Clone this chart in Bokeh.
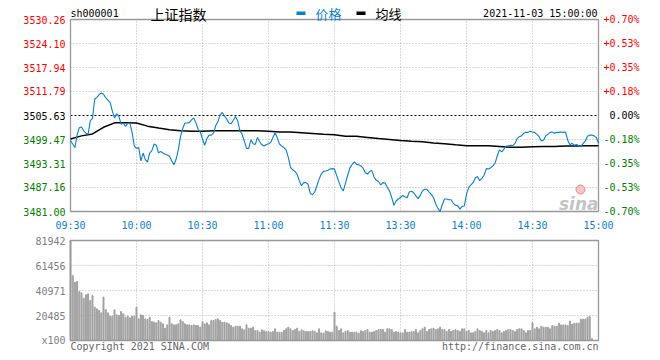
from bokeh.plotting import figure
from bokeh.models import Range1d
from bokeh.core.properties import value
from bokeh.embed import file_html
from bokeh.resources import INLINE

# ---------------- data ----------------
symbol = "sh000001"
index_name = "上证指数"
timestamp = "2021-11-03 15:00:00"
legend_price = "价格"
legend_avg = "均线"
copyright_text = "Copyright 2021 SINA.COM"
url_text = "http://finance.sina.com.cn"
prev_close = 3505.63

price_ticks = [3530.26, 3524.10, 3517.94, 3511.79, 3505.63, 3499.47, 3493.31, 3487.16, 3481.00]
pct_labels = ["+0.70%", "+0.53%", "+0.35%", "+0.18%", "0.00%", "-0.18%", "-0.35%", "-0.53%", "-0.70%"]
time_ticks = [0, 30, 60, 90, 120, 150, 180, 210, 240]
time_labels = ["09:30", "10:00", "10:30", "11:00", "11:30", "13:30", "14:00", "14:30", "15:00"]
vol_ticks = [0, 20485, 40971, 61456, 81942]
vol_labels = ["x100", "20485", "40971", "61456", "81942"]

minutes = list(range(241))
price = [
    3499.2, 3498.3, 3497.4, 3500.6, 3502.5, 3502.7, 3501.7, 3501.1, 3500.8, 3504.3,
    3504.9, 3509.8, 3510.3, 3511.0, 3511.4, 3511.1, 3510.2, 3509.6, 3509.0, 3506.8,
    3505.0, 3506.1, 3505.4, 3503.4, 3503.7, 3502.8, 3503.6, 3503.7, 3501.3, 3497.8,
    3497.2, 3497.4, 3494.0, 3496.0, 3494.3, 3493.7, 3496.0, 3496.6, 3498.3, 3498.0,
    3496.1, 3496.4, 3496.0, 3495.7, 3495.5, 3495.2, 3494.0, 3493.0, 3494.4, 3496.8,
    3500.2, 3502.3, 3503.7, 3503.7, 3503.8, 3504.5, 3505.0, 3503.8, 3502.1, 3501.4,
    3499.6, 3498.0, 3499.7, 3500.6, 3500.6, 3501.1, 3503.0, 3504.0, 3505.8, 3506.4,
    3505.5, 3504.7, 3503.7, 3503.5, 3504.4, 3505.4, 3504.3, 3501.7, 3500.8, 3499.1,
    3497.2, 3497.2, 3499.4, 3498.4, 3498.2, 3500.0, 3498.9, 3498.1, 3497.8, 3498.2,
    3498.4, 3498.7, 3500.0, 3501.2, 3499.9, 3498.3, 3497.8, 3497.4, 3496.8, 3494.9,
    3492.3, 3491.7, 3491.3, 3490.6, 3488.9, 3487.6, 3488.4, 3488.4, 3488.0, 3485.6,
    3485.3, 3486.0, 3487.6, 3489.3, 3490.6, 3491.3, 3491.4, 3491.6, 3491.9, 3492.0,
    3491.9, 3490.2, 3488.6, 3487.1, 3486.3, 3488.3, 3490.3, 3492.2, 3493.1, 3493.7,
    3493.1, 3493.0, 3492.7, 3492.1, 3491.0, 3490.6, 3491.3, 3491.5, 3489.8, 3489.0,
    3488.7, 3487.8, 3488.4, 3488.3, 3487.2, 3486.3, 3484.6, 3482.6, 3483.7, 3484.2,
    3484.6, 3485.1, 3484.8, 3484.5, 3486.0, 3486.2, 3485.8, 3485.0, 3484.3, 3485.2,
    3486.3, 3486.7, 3486.7, 3486.0, 3485.4, 3484.6, 3483.0, 3481.8, 3481.0, 3482.8,
    3484.2, 3484.2, 3484.0, 3484.0, 3483.1, 3482.6, 3482.5, 3481.6, 3482.3, 3482.4,
    3485.4, 3487.2, 3487.8, 3488.4, 3489.6, 3490.0, 3488.9, 3489.5, 3490.3, 3492.0,
    3491.9, 3492.2, 3492.7, 3493.4, 3495.3, 3496.8, 3496.3, 3497.0, 3497.8, 3497.8,
    3498.0, 3497.9, 3498.4, 3499.7, 3500.2, 3500.4, 3501.1, 3501.3, 3501.3, 3501.6,
    3501.4, 3501.3, 3500.8, 3500.2, 3499.1, 3499.3, 3500.4, 3500.8, 3501.3, 3501.4,
    3501.1, 3501.3, 3501.3, 3501.4, 3501.3, 3501.4, 3499.3, 3498.1, 3498.5, 3498.0,
    3498.2, 3497.9, 3497.7, 3498.4, 3499.1, 3500.3, 3500.6, 3500.6, 3500.4, 3500.0,
    3498.5,
]

avg_minutes = [0, 5, 10, 15, 20, 25, 30, 35, 40, 45, 50, 55, 60, 65, 70, 75, 80, 85, 90, 95,
               100, 105, 110, 115, 120, 125, 130, 135, 140, 145, 150, 155, 160, 165, 170, 175,
               180, 185, 190, 195, 200, 205, 210, 215, 220, 225, 230, 235, 240]
avg_price = [3499.6, 3500.4, 3500.9, 3502.6, 3503.75, 3503.8, 3503.7, 3502.9, 3502.4, 3502.0,
             3501.7, 3501.6, 3501.6, 3501.7, 3501.7, 3501.7, 3501.7, 3501.7, 3501.6, 3501.4,
             3501.4, 3501.2, 3501.0, 3500.8, 3500.7, 3500.3, 3500.3, 3500.0, 3499.7, 3499.5,
             3499.2, 3499.0, 3498.9, 3498.6, 3498.4, 3498.1, 3497.9, 3497.85, 3497.85, 3497.7,
             3497.5, 3497.5, 3497.6, 3497.7, 3497.7, 3497.8, 3497.8, 3497.85, 3497.85]

volume = [
    81942, 53235, 47775, 48321, 40131, 39039, 34671, 37401, 38220, 32760,
    36855, 27300, 25935, 24570, 22659, 35490, 25389, 22659, 19929, 19929,
    25116, 21021, 20475, 23751, 21840, 19110, 19929, 18564, 19929, 19929,
    27300, 17745, 21021, 20475, 17745, 17199, 19110, 15561, 15015, 14469,
    16380, 15015, 13650, 10101, 12831, 19110, 13650, 12831, 12831, 13650,
    16926, 15561, 13650, 12831, 12831, 12285, 12831, 12285, 12285, 10920,
    15561, 13650, 14469, 12831, 16380, 16380, 17199, 17745, 16380, 15015,
    15015, 14469, 13650, 12285, 10920, 11739, 11739, 11739, 9555, 8736,
    12831, 10101, 10101, 10920, 8190, 8190, 6825, 8736, 7917, 7371,
    7371, 6825, 7371, 9555, 6825, 6825, 6825, 8190, 9555, 10920,
    9555, 8190, 9009, 10101, 7371, 8736, 7917, 7371, 7371, 7371,
    7917, 7644, 6279, 9555, 6279, 6006, 7917, 7371, 6825, 6825,
    23205,
    11739, 8190, 9555, 6279, 7371, 8190, 6825, 6825, 6825, 6825,
    6006, 7917, 7371, 8190, 9009, 6825, 6825, 7371, 8190, 9009,
    9009, 9009, 6825, 9555, 9555, 9009, 6825, 7371, 6825, 6279,
    6279, 9009, 6825, 6825, 7371, 7371, 9009, 6279, 8190, 9555,
    10920, 7371, 9009, 9555, 10101, 9009, 9555, 10920, 9009, 9009,
    7371, 9009, 7371, 8190, 9009, 8190, 7371, 9555, 9555, 7371,
    8190, 6279, 6279, 7371, 9555, 8190, 7371, 6279, 8190, 6279,
    8190, 7371, 8190, 9009, 8190, 6279, 7371, 8190, 9009, 9009,
    8190, 7371, 9009, 9555, 9555, 8190, 6279, 8190, 8190,
    14500, 9560, 10900, 9560, 11700, 10900, 10900, 10900, 9560, 12300, 11700,
    11700, 14200, 12800, 12800, 12800, 12300, 15800, 13400, 14200, 14200,
    14200, 17500, 17500, 17500, 19100, 19700, 1500, 0, 0, 0,
]

# ---------------- layout / style ----------------
MONO = "DejaVu Sans Mono"
CJK = "Noto Sans CJK SC"
BLUE = "#0a7fd2"
RED = "#ff0000"
GREEN = "#008000"
GREY = "#999999"
BARGREY = "#a0a0a0"
GRID = "#b4b4b4"
TXTGREY = "#808080"

W, H = 648, 354              # canvas
FX, FW = 70, 528             # plot boxes: left, width (px)
PT, PH = 19, 192             # price box top, height
VT, VH = 240, 100            # volume box top, height
XMIN, XMAX = time_ticks[0], time_ticks[-1]
YMIN, YMAX = price_ticks[-1], price_ticks[0]
VMIN, VMAX = vol_ticks[0], vol_ticks[-1]

xs = (XMAX - XMIN) / FW        # data per px
ys = (YMAX - YMIN) / PH
vs = (VMAX - VMIN) / VH


def X(px):
    return XMIN + (px - FX) * xs


def PY(py):
    return YMIN + (PT + PH - py) * ys


def VY(py):
    return VMIN + (VT + VH - py) * vs


p = figure(width=W, height=H, x_range=Range1d(X(0), X(W)), y_range=Range1d(PY(H), PY(0)),
           output_backend="svg", toolbar_location=None,
           min_border=0, min_border_left=0, min_border_right=0,
           min_border_top=0, min_border_bottom=0)
p.extra_y_ranges = {"vol": Range1d(VY(H), VY(0))}
p.axis.visible = False
p.grid.visible = False
p.outline_line_color = None

# ---- price panel ----
inner_t = time_ticks[1:-1]
p.segment(x0=inner_t, x1=inner_t, y0=[YMIN] * len(inner_t), y1=[YMAX] * len(inner_t),
          line_color=GRID, line_dash="1 2", line_width=1)
hgrid = [t for t in price_ticks[1:-1] if t != prev_close]
p.segment(x0=[XMIN] * len(hgrid), x1=[XMAX] * len(hgrid), y0=hgrid, y1=hgrid,
          line_color=GRID, line_dash="1 2", line_width=1)
p.segment(x0=[XMIN], x1=[XMAX], y0=[prev_close], y1=[prev_close],
          line_color="black", line_dash="2 2", line_width=1)
p.quad(left=[XMIN], right=[XMAX], bottom=[YMIN], top=[YMAX], fill_color=None,
       line_color=GREY, line_width=1.3)

# watermark
p.scatter(x=[X(580)], y=[PY(189)], marker="circle", size=9, fill_color="#f4b8b8",
          fill_alpha=0.8, line_color="#e88888", line_width=1)
p.text(x=[X(598)], y=[PY(203)], text=["sina"], text_align="right", text_baseline="alphabetic",
       text_font=value("DejaVu Sans"), text_font_style="bold italic", text_font_size="17px",
       text_color="#c4c4c4")

p.line(avg_minutes, avg_price, color="black", line_width=1.5)
p.line(minutes, price, color=BLUE, line_width=1.1)

lab_colors = [RED if v > prev_close + 1e-6 else (GREEN if v < prev_close - 1e-6 else "black")
              for v in price_ticks]
p.text(x=[X(65)] * len(price_ticks), y=price_ticks, text=[f"{v:.2f}" for v in price_ticks],
       text_align="right", text_baseline="middle", text_font=value(MONO),
       text_font_size="10px", text_color=lab_colors)
p.text(x=[X(639)] * len(price_ticks), y=price_ticks, text=pct_labels,
       text_align="right", text_baseline="middle", text_font=value(MONO),
       text_font_size="10px", text_color=lab_colors)
p.text(x=time_ticks, y=[PY(225)] * len(time_ticks), text=time_labels, text_align="center",
       text_baseline="middle", text_font=value(MONO), text_font_size="10px", text_color=BLUE)

# header
p.text(x=[X(70)], y=[PY(13)], text=[symbol], text_align="left", text_baseline="middle",
       text_font=value(MONO), text_font_size="10px", text_color="black")
p.text(x=[X(150)], y=[PY(13)], text=[index_name], text_align="left", text_baseline="middle",
       text_font=value(CJK), text_font_size="14px", text_color="black")
p.quad(left=[X(296)], right=[X(305)], bottom=[PY(14.5)], top=[PY(11)],
       fill_color=BLUE, line_color=None)
p.text(x=[X(315)], y=[PY(13)], text=[legend_price], text_align="left", text_baseline="middle",
       text_font=value(CJK), text_font_size="13px", text_color=BLUE)
p.quad(left=[X(356)], right=[X(365)], bottom=[PY(14.5)], top=[PY(11)],
       fill_color="black", line_color=None)
p.text(x=[X(375)], y=[PY(13)], text=[legend_avg], text_align="left", text_baseline="middle",
       text_font=value(CJK), text_font_size="13px", text_color="black")
p.text(x=[X(597)], y=[PY(13)], text=[timestamp], text_align="right", text_baseline="middle",
       text_font=value(MONO), text_font_size="10px", text_color="black")

# ---- volume panel ----
p.segment(x0=inner_t, x1=inner_t, y0=[VMIN] * len(inner_t), y1=[VMAX] * len(inner_t),
          line_color=GRID, line_dash="1 2", line_width=1, y_range_name="vol")
vgrid = vol_ticks[1:-1]
p.segment(x0=[XMIN] * len(vgrid), x1=[XMAX] * len(vgrid), y0=vgrid, y1=vgrid,
          line_color=GRID, line_dash="1 2", line_width=1, y_range_name="vol")
p.vbar(x=minutes, top=volume, bottom=0, width=0.45, color=BARGREY, y_range_name="vol")
p.quad(left=[XMIN], right=[XMAX], bottom=[VMIN], top=[VMAX], fill_color=None,
       line_color=GREY, line_width=1.3, y_range_name="vol")
p.text(x=[X(65)] * len(vol_ticks), y=vol_ticks, text=vol_labels, text_align="right",
       text_baseline="middle", text_font=value(MONO), text_font_size="10px",
       text_color=TXTGREY, y_range_name="vol")
p.text(x=[X(70)], y=[VY(346)], text=[copyright_text], text_align="left",
       text_baseline="middle", text_font=value(MONO), text_font_size="10px",
       text_color="#666666", y_range_name="vol")
p.text(x=[X(598)], y=[VY(346)], text=[url_text], text_align="right",
       text_baseline="middle", text_font=value(MONO), text_font_size="10px",
       text_color="#666666", y_range_name="vol")

open("out.html", "w").write(file_html(p, INLINE, "sh000001"))
